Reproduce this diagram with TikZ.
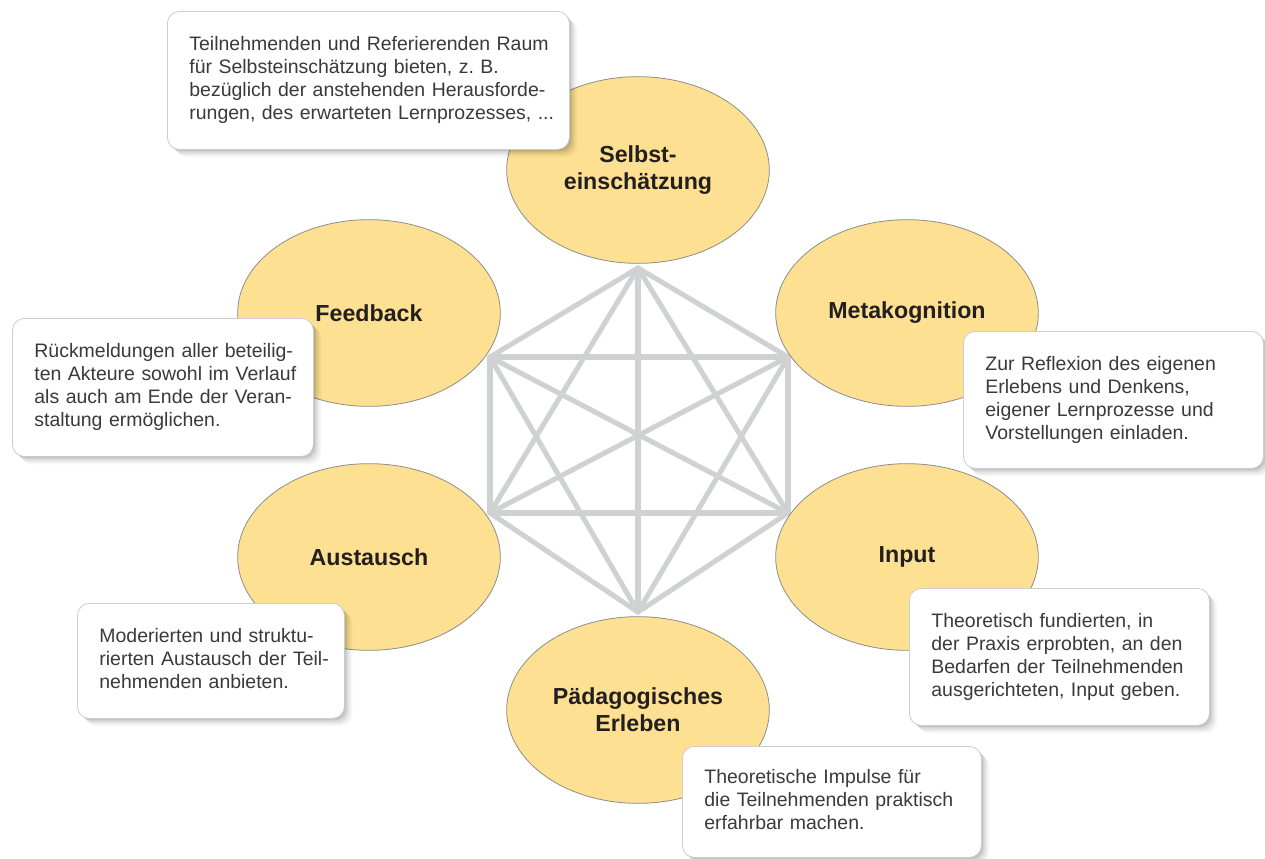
\documentclass[tikz,border=0pt]{standalone}
\usepackage{fontspec}
\setmainfont{Liberation Sans}
\usepackage{xcolor}
\usetikzlibrary{shapes.geometric,shadows}

\definecolor{blobfill}{RGB}{253,224,145}
\definecolor{blobline}{RGB}{140,140,140}
\definecolor{webline}{RGB}{208,209,211}
\definecolor{boxline}{RGB}{205,205,205}
\definecolor{bodytext}{RGB}{58,58,58}
\definecolor{headtext}{RGB}{35,31,32}

% lines of a text box, kept as set
\newcommand{\hintlines}[1]{\begin{tabular}{@{}l@{}}#1\end{tabular}}

\tikzset{
  blob/.style={ellipse, draw=blobline, line width=0.6pt, fill=blobfill, minimum width=197pt, minimum height=140pt, inner sep=0pt, align=center, text=headtext, font=\bfseries\fontsize{17.4}{20.25}\selectfont},
  hint/.style={draw=boxline, line width=0.6pt, fill=white, rounded corners=9pt, anchor=north west, align=left, inner xsep=16.5pt, inner ysep=0pt, text=bodytext, font=\fontsize{14.6}{17.25}\selectfont,
    drop shadow={shadow xshift=1.5pt, shadow yshift=-1.5pt, opacity=0.10, fill=black},
    drop shadow={shadow xshift=3pt, shadow yshift=-3pt, opacity=0.07, fill=black},
    drop shadow={shadow xshift=4.5pt, shadow yshift=-4.5pt, opacity=0.05, fill=black},
    drop shadow={shadow xshift=6pt, shadow yshift=-6pt, opacity=0.03, fill=black}},
  web/.style={draw=webline, line width=3.8pt, line cap=round},
}

\begin{document}
\begin{tikzpicture}[x=0.75pt,y=0.75pt,yscale=-1,xscale=1]
\useasboundingbox (0,0) rectangle (1265,858);

%Corners of the hexagon
\coordinate (t) at (638,268);
\coordinate (ul) at (490,357);
\coordinate (ur) at (788,357);
\coordinate (ll) at (490,513);
\coordinate (lr) at (788,513);
\coordinate (b) at (638,612);

%Straight Lines
\draw [web] (t) -- (ul);
\draw [web] (t) -- (ur);
\draw [web] (t) -- (ll);
\draw [web] (t) -- (lr);
\draw [web] (t) -- (b);
\draw [web] (ul) -- (ur);
\draw [web] (ul) -- (ll);
\draw [web] (ul) -- (lr);
\draw [web] (ul) -- (b);
\draw [web] (ur) -- (ll);
\draw [web] (ur) -- (lr);
\draw [web] (ur) -- (b);
\draw [web] (ll) -- (lr);
\draw [web] (ll) -- (b);
\draw [web] (lr) -- (b);

%Shapes: Ellipse
\node (selbst) [blob] at (638,170) {Selbst-\\einschätzung};
\node (feedback) [blob] at (369,313) {Feedback};
\node (meta) [blob] at (907,313) {Metakognition};
\node (austausch) [blob] at (369,557) {Austausch};
\node (input) [blob] at (907,557) {Input};
\node (paed) [blob] at (638,710) {Pädagogisches\\Erleben};

% Text Node
\node (selbsttext) [hint, minimum width=301.5pt, minimum height=103.5pt, text width=268.5pt] at (167,11) {\hintlines{Teilnehmenden und Referierenden Raum\\für Selbsteinschätzung bieten, z.~B.\\bezüglich der anstehenden Herausforde-\\rungen, des erwarteten Lernprozesses, ...}};
% Text Node
\node (feedbacktext) [hint, minimum width=225.75pt, minimum height=103.5pt, text width=192.75pt] at (12,318) {\hintlines{Rückmeldungen aller beteilig-\\ten Akteure sowohl im Verlauf\\als auch am Ende der Veran-\\staltung ermöglichen.}};
% Text Node
\node (metatext) [hint, minimum width=225pt, minimum height=102.75pt, text width=192pt] at (963,331) {\hintlines{Zur Reflexion des eigenen\\Erlebens und Denkens,\\eigener Lernprozesse und\\Vorstellungen einladen.}};
% Text Node
\node (austauschtext) [hint, minimum width=200.25pt, minimum height=86.25pt, text width=167.25pt] at (77,603) {\hintlines{Moderierten und struktu-\\rierten Austausch der Teil-\\nehmenden anbieten.}};
% Text Node
\node (inputtext) [hint, minimum width=225pt, minimum height=102.75pt, text width=192pt] at (909,588) {\hintlines{Theoretisch fundierten, in\\der Praxis erprobten, an den\\Bedarfen der Teilnehmenden\\ausgerichteten, Input geben.}};
% Text Node
\node (paedtext) [hint, minimum width=224.25pt, minimum height=83.25pt, text width=191.25pt] at (682,746) {\hintlines{Theoretische Impulse für\\die Teilnehmenden praktisch\\erfahrbar machen.}};

\end{tikzpicture}
\end{document}
